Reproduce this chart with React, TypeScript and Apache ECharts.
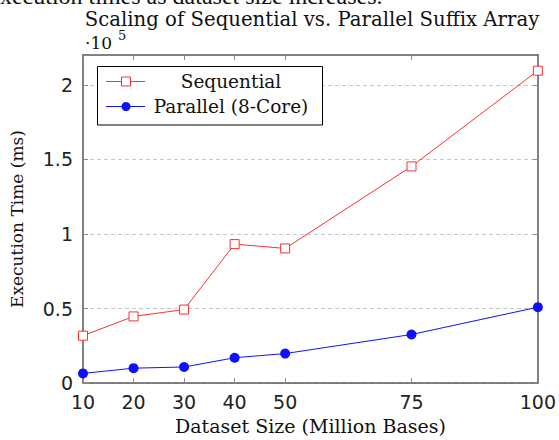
import React, { useEffect, useRef } from "react";
import * as echarts from "echarts";

// Dataset size (million bases)
const xSizes = [10, 20, 30, 40, 50, 75, 100];
// Execution time in ms
const sequentialMs = [31800, 44700, 49300, 93200, 90300, 145300, 209500];
const parallelMs = [6500, 10000, 10800, 17000, 19800, 32600, 50900];
const seriesNames = ["Sequential", "Parallel (8-Core)"];
const xTicks = [10, 20, 30, 40, 50, 75, 100];
const yTicks = [0, 50000, 100000, 150000, 200000];

const SERIF = "DejaVu Serif";
const SANS = "DejaVu Sans";
const RED = "#ff3030";
const BLUE = "#1010ff";
const FRAME = "#595959";
const TICK = "#8a8a8a";

export default function App() {
  const ref = useRef<HTMLDivElement>(null);
  useEffect(() => {
    if (!ref.current) return;
    const chart = echarts.init(ref.current, null, { renderer: "svg" });
    const seqData = xSizes.map((x, i) => [x, sequentialMs[i]]);
    const parData = xSizes.map((x, i) => [x, parallelMs[i]]);

    const axisCommonX = {
      type: "value",
      min: 10,
      max: 100,
      axisLine: { show: true, onZero: false, lineStyle: { color: FRAME, width: 1.5 } },
      axisTick: { show: true, inside: true, length: 5, customValues: xTicks, lineStyle: { color: TICK, width: 1 } },
      splitLine: { show: false },
    };
    const axisCommonY = {
      type: "value",
      min: 0,
      max: 220000,
      axisLine: { show: true, onZero: false, lineStyle: { color: FRAME, width: 1.5 } },
      axisTick: { show: true, inside: true, length: 5, customValues: yTicks, lineStyle: { color: TICK, width: 1 } },
    };

    const legendRows = [
      { name: seriesNames[0], color: RED, y: 81.5, marker: "rect" },
      { name: seriesNames[1], color: BLUE, y: 106.5, marker: "circle" },
    ];
    const legendGraphics: any[] = [
      {
        type: "rect",
        shape: { x: 97.5, y: 66.5, width: 225, height: 58.5 },
        style: { fill: "#fff", stroke: "#000", lineWidth: 1 },
        z: 100,
      },
    ];
    legendRows.forEach((r) => {
      legendGraphics.push({
        type: "line",
        shape: { x1: 106, y1: r.y, x2: 145, y2: r.y },
        style: { stroke: r.color, lineWidth: 1 },
        z: 101,
      });
      if (r.marker === "rect") {
        legendGraphics.push({
          type: "rect",
          shape: { x: 121.5, y: r.y - 4.5, width: 9, height: 9 },
          style: { fill: "#fff", stroke: r.color, lineWidth: 1 },
          z: 102,
        });
      } else {
        legendGraphics.push({
          type: "circle",
          shape: { cx: 126, cy: r.y, r: 4.5 },
          style: { fill: r.color },
          z: 102,
        });
      }
      legendGraphics.push({
        type: "text",
        style: {
          x: 231,
          y: r.y,
          text: r.name,
          fontFamily: SERIF,
          fontSize: 18.5,
          fill: "#111",
          textAlign: "center",
          textVerticalAlign: "middle",
        },
        z: 102,
      });
    });

    chart.setOption({
      animation: false,
      backgroundColor: "#fff",
      grid: { left: 83, top: 55, right: 17, bottom: 51, containLabel: false },
      xAxis: [
        {
          ...axisCommonX,
          position: "bottom",
          axisLabel: { customValues: xTicks, margin: 9, color: "#222", fontSize: 19, fontFamily: SANS },
          name: "Dataset Size (Million Bases)",
          nameLocation: "middle",
          nameGap: 28,
          nameTextStyle: { fontFamily: SERIF, fontSize: 19, color: "#111" },
        },
        {
          ...axisCommonX,
          position: "top",
          axisLabel: { show: false },
        },
      ],
      yAxis: [
        {
          ...axisCommonY,
          position: "left",
          axisLabel: {
            customValues: yTicks,
            margin: 10,
            color: "#222",
            fontSize: 19,
            fontFamily: SANS,
            formatter: (v: number) => String(v / 100000),
          },
          splitLine: { show: true, lineStyle: { color: "#c8c8c8", type: [4, 3], width: 1 } },
          name: "Execution Time (ms)",
          nameLocation: "middle",
          nameGap: 58,
          nameTextStyle: { fontFamily: SERIF, fontSize: 17, color: "#111" },
        },
        {
          ...axisCommonY,
          position: "right",
          axisLabel: { show: false },
          splitLine: { show: false },
        },
      ],
      series: [
        {
          name: seriesNames[0],
          type: "line",
          data: seqData,
          xAxisIndex: 0,
          yAxisIndex: 0,
          symbol: "rect",
          symbolSize: 9,
          itemStyle: { color: "#fff", borderColor: RED, borderWidth: 1 },
          lineStyle: { color: RED, width: 1 },
          z: 3,
        },
        {
          name: seriesNames[1],
          type: "line",
          data: parData,
          xAxisIndex: 0,
          yAxisIndex: 0,
          symbol: "circle",
          symbolSize: 10,
          itemStyle: { color: BLUE },
          lineStyle: { color: BLUE, width: 1 },
          z: 3,
        },
      ],
      graphic: [
        {
          type: "text",
          style: {
            x: -10.7,
            y: 8,
            text: "execution times as dataset size increases.",
            fontFamily: "Liberation Serif",
            fontSize: 24,
            fill: "#111",
            textAlign: "left",
            textVerticalAlign: "bottom",
          },
        },
        {
          type: "text",
          style: {
            x: 312,
            y: 19,
            text: "Scaling of Sequential vs. Parallel Suffix Array",
            fontFamily: SERIF,
            fontSize: 19.7,
            fill: "#111",
            textAlign: "center",
            textVerticalAlign: "middle",
          },
        },
        {
          type: "text",
          style: {
            x: 85,
            y: 43,
            text: "·10",
            fontFamily: SERIF,
            fontSize: 17,
            fill: "#111",
            textAlign: "left",
            textVerticalAlign: "middle",
          },
        },
        {
          type: "text",
          style: {
            x: 118,
            y: 35,
            text: "5",
            fontFamily: SERIF,
            fontSize: 13,
            fill: "#111",
            textAlign: "left",
            textVerticalAlign: "middle",
          },
        },
        ...legendGraphics,
      ],
    });
    return () => chart.dispose();
  }, []);
  return (
    <div
      ref={ref}
      style={{ position: "fixed", left: 0, top: 0, width: 559, height: 440, background: "#fff" }}
    />
  );
}
